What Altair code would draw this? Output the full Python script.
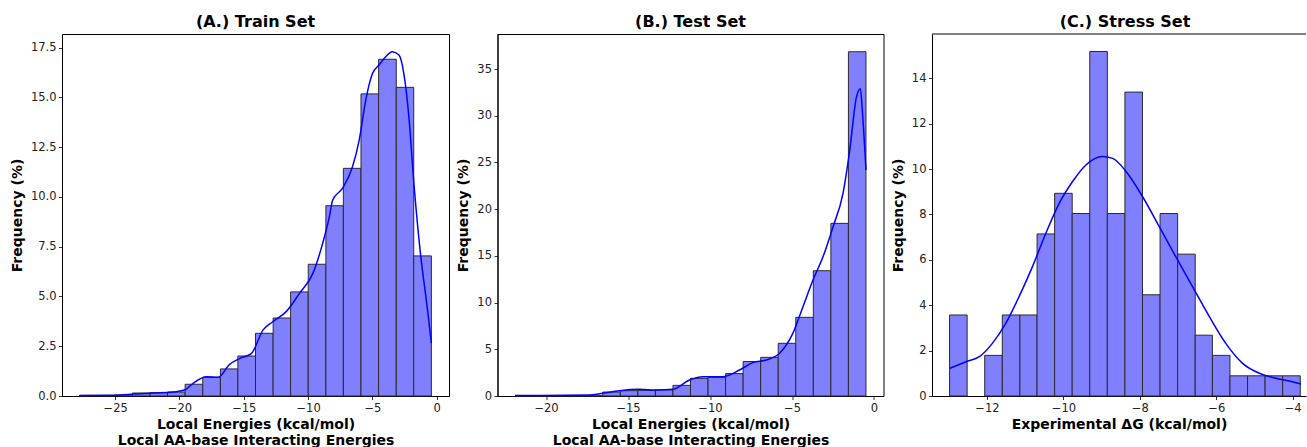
import altair as alt
import pandas as pd

# ---------------- data ----------------
# (A.) Train set histogram (20 bins, % frequency)
A_edges = [-27.76, -26.39, -25.03, -23.66, -22.29, -20.93, -19.56, -18.19, -16.82, -15.46,
           -14.09, -12.72, -11.36, -9.99, -8.62, -7.26, -5.89, -4.52, -3.15, -1.79, -0.42]
A_freq = [0.03, 0.03, 0.05, 0.15, 0.17, 0.2, 0.59, 0.94, 1.36, 2.01,
          3.15, 3.92, 5.23, 6.62, 9.56, 11.44, 15.18, 16.92, 15.51, 7.04]
A_kde_x = [-27.76, -25.0, -23.5, -22.0, -20.5, -19.6, -18.94, -17.9, -17.0, -16.1, -15.3, -14.4,
           -13.5, -12.75, -11.7, -10.67, -9.63, -8.87, -8.35, -8.09, -7.32, -6.55, -6.03, -5.52,
           -5.0, -4.49, -3.97, -3.46, -2.94, -2.56, -2.17, -1.78, -1.27, -0.75, -0.42]
A_kde_y = [0.03, 0.04, 0.1, 0.15, 0.2, 0.3, 0.64, 0.97, 0.94, 1.59, 1.89, 2.14,
           3.32, 3.73, 4.24, 5.16, 6.16, 7.67, 9.0, 9.85, 10.44, 11.52, 12.86, 14.87,
           16.2, 16.63, 17.05, 17.3, 17.13, 16.2, 14.04, 10.69, 7.17, 4.49, 2.65]

# (B.) Test set
B_edges = [-21.89, -20.82, -19.75, -18.68, -17.61, -16.54, -15.47, -14.40, -13.33, -12.26,
           -11.19, -10.12, -9.05, -7.98, -6.91, -5.84, -4.77, -3.70, -2.63, -1.56, -0.49]
B_freq = [0.02, 0.02, 0.02, 0.03, 0.03, 0.42, 0.57, 0.6, 0.65, 1.14,
          1.89, 2.0, 2.4, 3.69, 4.14, 5.64, 8.42, 13.41, 18.48, 36.85]
B_kde_x = [-21.89, -17.36, -16.54, -15.53, -14.3, -13.28, -12.27, -11.25, -10.44, -9.22,
           -8.2, -7.39, -6.57, -5.76, -4.95, -4.33, -3.72, -3.11, -2.5, -1.89,
           -1.48, -1.07, -0.83, -0.71, -0.49]
B_kde_y = [0.05, 0.1, 0.3, 0.57, 0.71, 0.64, 0.71, 1.71, 2.07, 2.07,
           2.78, 3.57, 3.85, 4.57, 6.7, 9.56, 12.42, 14.9, 18.1, 21.7,
           26.3, 32.0, 32.9, 30.5, 24.2]

# (C.) Stress set
C_edges = [-12.98, -12.52, -12.06, -11.60, -11.14, -10.69, -10.23, -9.77, -9.31, -8.85,
           -8.39, -7.93, -7.47, -7.01, -6.55, -6.10, -5.64, -5.18, -4.72, -4.26, -3.80]
C_freq = [3.57, 0, 1.79, 3.57, 3.57, 7.14, 8.93, 8.04, 15.18, 8.04,
          13.39, 4.46, 8.04, 6.25, 2.68, 1.79, 0.89, 0.89, 0.89, 0.89]
C_kde_x = [-12.97, -12.55, -12.20, -11.86, -11.51, -11.16, -10.81, -10.46, -10.11, -9.76,
           -9.41, -8.98, -8.71, -8.36, -7.93, -7.49, -7.06, -6.62, -6.18, -5.75,
           -5.31, -4.87, -4.44, -4.09, -3.78]
C_kde_y = [1.22, 1.51, 1.73, 2.32, 3.2, 4.38, 5.7, 7.17, 8.49, 9.45,
           10.18, 10.55, 10.47, 9.89, 8.79, 7.46, 6.14, 4.82, 3.5, 2.32,
           1.44, 1.0, 0.78, 0.66, 0.53]

A_xticks = [-25, -20, -15, -10, -5, 0]
A_yticks = [0, 2.5, 5, 7.5, 10, 12.5, 15, 17.5]
B_xticks = [-20, -15, -10, -5, 0]
B_yticks = [0, 5, 10, 15, 20, 25, 30, 35]
C_xticks = [-12, -10, -8, -6, -4]
C_yticks = [0, 2, 4, 6, 8, 10, 12, 14]

TITLES = ["(A.) Train Set", "(B.) Test Set", "(C.) Stress Set"]
XTITLE_AB = ["Local Energies (kcal/mol)", "Local AA-base Interacting Energies"]
XTITLE_C = "Experimental \u0394G (kcal/mol)"
YTITLE = "Frequency (%)"

H = 362
FONT = "DejaVu Sans"


def panel(edges, freq, kx, ky, xdom, ydom, xticks, yticks, yfmt, xtitle, title,
          width, frame=True, title_dx=0):
    bars = pd.DataFrame({"lo": edges[:-1], "hi": edges[1:], "f": freq})
    bars = bars[bars["f"] > 0]
    kde = pd.DataFrame({"x": kx, "y": ky})
    xs = alt.Scale(domain=xdom, nice=False, zero=False)
    ys = alt.Scale(domain=ydom, nice=False, zero=False)
    bar = alt.Chart(bars).mark_rect(
        fill="#8080ff", stroke="#2a2a2a", strokeWidth=1
    ).encode(
        x=alt.X("lo:Q", scale=xs,
                axis=alt.Axis(values=xticks, format="d", title=xtitle,
                              titlePadding=4, titleLineHeight=16)),
        x2="hi:Q",
        y=alt.Y("f:Q", scale=ys,
                axis=alt.Axis(values=yticks, format=yfmt, title=YTITLE, titlePadding=6)),
        y2=alt.datum(0),
    )
    line = alt.Chart(kde).mark_line(
        color="#0000ff", strokeWidth=1.5, interpolate="monotone"
    ).encode(x="x:Q", y="y:Q")
    layers = [bar, line]
    if not frame:
        top = alt.Chart(pd.DataFrame({"a": [0]})).mark_rule(
            color="black", strokeWidth=1
        ).encode(x=alt.value(0), x2=alt.value(width), y=alt.value(0))
        layers.append(top)
    ch = alt.layer(*layers).properties(
        width=width, height=H,
        title=alt.TitleParams(title, fontSize=16, fontWeight="bold", font=FONT,
                              anchor="middle", baseline="alphabetic", offset=6,
                              dx=title_dx, dy=15),
    )
    if frame:
        ch = ch.properties(view=alt.ViewBackground(stroke="black", strokeWidth=1))
    else:
        ch = ch.properties(view=alt.ViewBackground(stroke=None))
    return ch


pA = panel(A_edges, A_freq, A_kde_x, A_kde_y, [-29.13, 0.95], [0, 18.19],
           A_xticks, A_yticks, ".1f", XTITLE_AB, TITLES[0], 387)
pB = panel(B_edges, B_freq, B_kde_x, B_kde_y, [-22.96, 0.58], [0, 38.75],
           B_xticks, B_yticks, "d", XTITLE_AB, TITLES[1], 386)
pC = panel(C_edges, C_freq, C_kde_x, C_kde_y, [-13.44, -3.65], [0, 15.95],
           C_xticks, C_yticks, "d", XTITLE_C, TITLES[2], 374, frame=False, title_dx=6)

chart = alt.hconcat(pA, pB, pC, spacing=48.5, bounds="flush").properties(
    padding={"left": 9, "top": 13, "right": 0, "bottom": 0},
    background="white",
).configure_axis(
    labelFont=FONT, labelFontSize=11.5, labelColor="#222222", labelPadding=2.5,
    titleFont=FONT, titleFontSize=14, titleFontWeight="bold", titleColor="black",
    domainColor="black", domainWidth=1, tickColor="black", tickSize=3.5, tickWidth=0.8,
    grid=False,
).configure_view(stroke=None)

chart.save("out.html", embed_options={"renderer": "svg", "actions": False})
